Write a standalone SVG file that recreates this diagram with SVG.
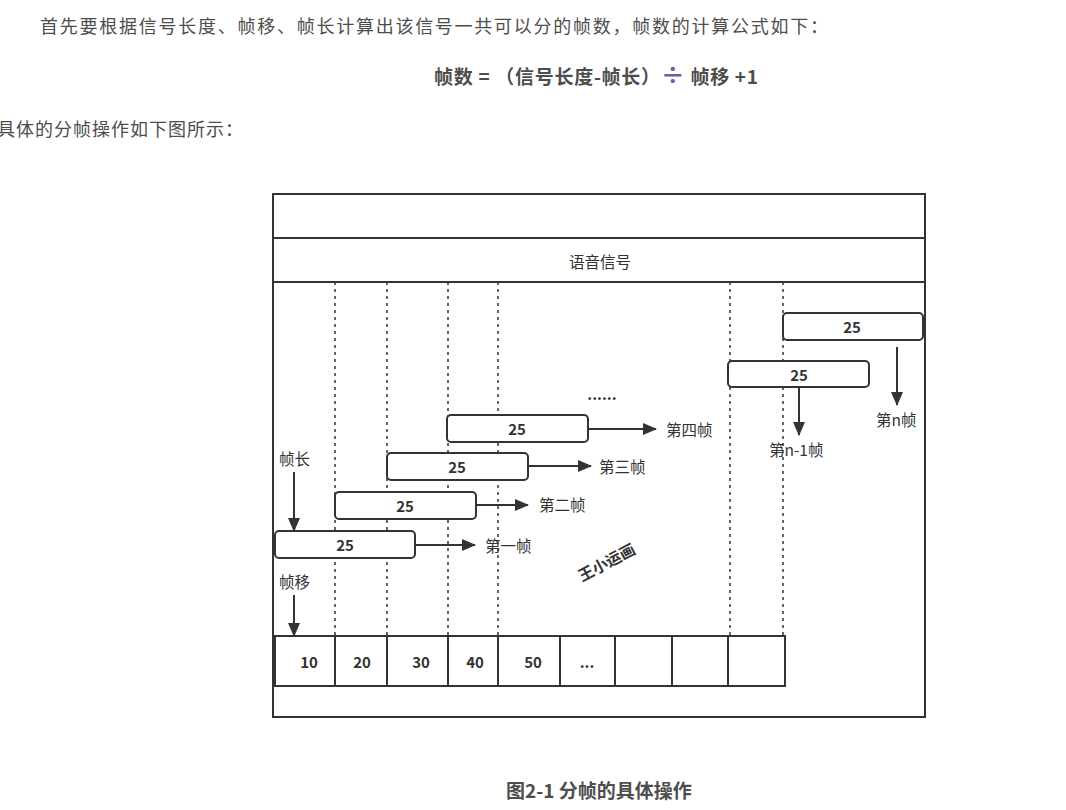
<svg xmlns="http://www.w3.org/2000/svg" width="1066" height="810" viewBox="0 0 1066 810">
<style>
.p{font-family:"Noto Sans CJK SC",sans-serif;fill:#4d4d4d;font-size:18px}
.b{font-family:"Noto Sans CJK SC",sans-serif;fill:#4d4d4d;font-weight:bold}
.t{font-family:"Noto Sans CJK SC",sans-serif;fill:#333;font-size:15.5px}
.n{font-family:"Noto Sans CJK SC",sans-serif;fill:#333;font-size:15px;font-weight:bold;text-anchor:middle}
.frame{fill:#fff;stroke:#333;stroke-width:2}
.box{fill:#fff;stroke:#333;stroke-width:2}
.dot{stroke:#333;stroke-width:1.5;stroke-dasharray:3 4;fill:none}
.ar{stroke:#333;stroke-width:2;fill:none;marker-end:url(#ah)}
</style>
<defs>
<marker id="ah" markerWidth="14" markerHeight="12" refX="13" refY="6" orient="auto" markerUnits="userSpaceOnUse">
<path d="M0,0 L14,6 L0,12 Z" fill="#333"/>
</marker>
</defs>
<rect width="1066" height="810" fill="#fff"/>
<text class="p" x="40" y="33" textLength="788" lengthAdjust="spacing">首先要根据信号长度、帧移、帧长计算出该信号一共可以分的帧数，帧数的计算公式如下：</text>
<text class="b" x="434" y="84" font-size="19" textLength="324" lengthAdjust="spacing">帧数 = （信号长度-帧长）<tspan fill="#6b5fa5" font-size="24">÷</tspan> 帧移 +1</text>
<text class="p" x="-3" y="136" font-size="19" textLength="246" lengthAdjust="spacing">具体的分帧操作如下图所示：</text>

<g id="frame">
<rect class="frame" x="273" y="194" width="652" height="523"/>
</g>
<g id="signal">
<rect class="frame" x="273" y="238" width="652" height="44"/>
<text class="t" x="600" y="268" text-anchor="middle" font-size="16">语音信号</text>
</g>
<g id="grid">
<line class="dot" x1="335" y1="282" x2="335" y2="636"/>
<line class="dot" x1="387" y1="282" x2="387" y2="636"/>
<line class="dot" x1="448" y1="282" x2="448" y2="636"/>
<line class="dot" x1="498" y1="282" x2="498" y2="636"/>
<line class="dot" x1="730" y1="282" x2="730" y2="636"/>
<line class="dot" x1="783" y1="282" x2="783" y2="636"/>
</g>
<g id="cells">
<rect class="box" x="275" y="636" width="510" height="50"/>
<line stroke="#333" stroke-width="2" x1="335" y1="636" x2="335" y2="686"/>
<line stroke="#333" stroke-width="2" x1="387" y1="636" x2="387" y2="686"/>
<line stroke="#333" stroke-width="2" x1="448" y1="636" x2="448" y2="686"/>
<line stroke="#333" stroke-width="2" x1="498" y1="636" x2="498" y2="686"/>
<line stroke="#333" stroke-width="2" x1="560" y1="636" x2="560" y2="686"/>
<line stroke="#333" stroke-width="2" x1="615" y1="636" x2="615" y2="686"/>
<line stroke="#333" stroke-width="2" x1="672" y1="636" x2="672" y2="686"/>
<line stroke="#333" stroke-width="2" x1="728" y1="636" x2="728" y2="686"/>
<text class="n" x="309" y="668">10</text>
<text class="n" x="362" y="668">20</text>
<text class="n" x="421" y="668">30</text>
<text class="n" x="475" y="668">40</text>
<text class="n" x="533" y="668">50</text>
<text class="n" x="587" y="668">...</text>
</g>
<g id="f1"><rect class="box" x="275" y="531" width="140" height="27" rx="4"/><text class="n" x="345" y="551">25</text></g>
<g id="f2"><rect class="box" x="335" y="492" width="141" height="27" rx="4"/><text class="n" x="405" y="512">25</text></g>
<g id="f3"><rect class="box" x="387" y="453" width="141" height="27" rx="4"/><text class="n" x="457" y="473">25</text></g>
<g id="f4"><rect class="box" x="447" y="415" width="141" height="27" rx="4"/><text class="n" x="517" y="435">25</text></g>
<g id="fn1"><rect class="box" x="728" y="361" width="141" height="26" rx="4"/><text class="n" x="799" y="381">25</text></g>
<g id="fn"><rect class="box" x="783" y="313" width="140" height="27" rx="4"/><text class="n" x="852" y="333">25</text></g>
<g id="connectors">
<line class="ar" x1="415" y1="545" x2="475" y2="545"/>
<line class="ar" x1="476" y1="505" x2="528" y2="505"/>
<line class="ar" x1="528" y1="466" x2="591" y2="466"/>
<line class="ar" x1="588" y1="429" x2="656" y2="429"/>
<line class="ar" x1="799" y1="387" x2="799" y2="435"/>
<line class="ar" x1="897" y1="347" x2="897" y2="405"/>
<line class="ar" x1="294" y1="472" x2="294" y2="531"/>
<line class="ar" x1="294" y1="595" x2="294" y2="636"/>
</g>
<g id="labels">
<text class="t" x="485" y="552">第一帧</text>
<text class="t" x="539" y="511">第二帧</text>
<text class="t" x="599" y="473">第三帧</text>
<text class="t" x="666" y="436">第四帧</text>
<text class="t" x="769" y="456">第n-1帧</text>
<text class="t" x="876" y="426">第n帧</text>
<text class="t" x="279" y="465">帧长</text>
<text class="t" x="279" y="588">帧移</text>
<text class="n" x="602" y="400" font-size="14">......</text>
<text class="t" x="607" y="568" text-anchor="middle" font-size="14" font-weight="bold" transform="rotate(-28 607 563)">王小运画</text>
</g>
<text class="b" x="599" y="798" font-size="19" text-anchor="middle">图2-1 分帧的具体操作</text>
</svg>
